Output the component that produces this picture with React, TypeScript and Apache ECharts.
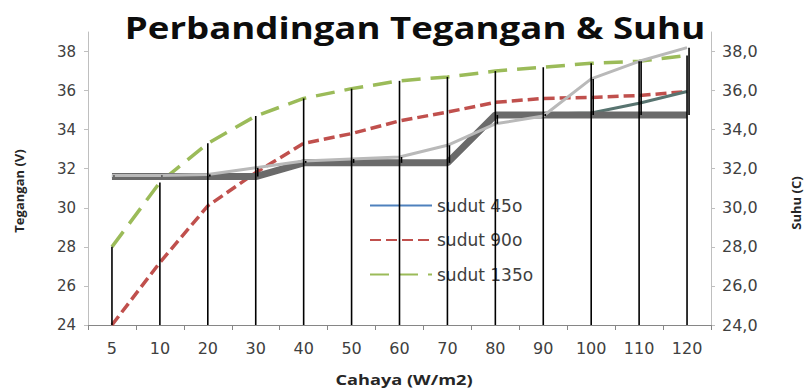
import React, { useEffect, useRef } from 'react';
import * as echarts from 'echarts';

const categories = ['5', '10', '20', '30', '40', '50', '60', '70', '80', '90', '100', '110', '120'];
// Tegangan (V) series
const sudut45 = [31.6, 31.6, 31.6, 31.6, 32.3, 32.3, 32.3, 32.3, 34.75, 34.75, 34.75, 34.75, 34.75];
const sudut90 = [24.0, 27.2, 30.1, 31.8, 33.3, 33.8, 34.45, 34.9, 35.4, 35.6, 35.65, 35.75, 35.95];
const sudut135 = [28.0, 31.3, 33.3, 34.7, 35.6, 36.1, 36.5, 36.7, 37.0, 37.2, 37.4, 37.5, 37.8];
// Suhu (C) series
const suhuDark = [31.6, 31.6, 31.6, 31.6, 32.3, 32.3, 32.3, 32.3, 34.75, 34.75, 34.75, 34.75, 34.75];
const suhuMid = [31.6, 31.6, 31.6, 31.6, 32.3, 32.3, 32.3, 32.3, 34.75, 34.8, 34.85, 35.35, 35.95];
const suhuLight = [31.65, 31.65, 31.7, 32.05, 32.4, 32.5, 32.6, 33.2, 34.3, 34.7, 36.6, 37.5, 38.2];

const yMin = 24;
const yMax = 39;
const yInterval = 2;

const FONT = "'Open Sans', 'DejaVu Sans', sans-serif";
const WIDE = "'DejaVu Sans', 'Open Sans', sans-serif";

export default function App() {
  const ref = useRef<HTMLDivElement>(null);

  useEffect(() => {
    if (!ref.current) return;
    const chart = echarts.init(ref.current, null, { renderer: 'svg' });

    // drop lines for the Tegangan group (visible dashed series)
    const dropTops = categories.map((_, i) => Math.max(sudut90[i], sudut135[i]));
    // high-low lines for the Suhu group
    const suhuGroup = [suhuDark, suhuMid, suhuLight];
    const hiLo = categories.map((_, i) => [
      i,
      Math.min(...suhuGroup.map((s) => s[i])),
      Math.max(...suhuGroup.map((s) => s[i])),
    ]);

    const vLine = (offset: number) => (params: any, api: any) => {
      const top = api.coord([api.value(0), api.value(2)]);
      const bottom = api.coord([api.value(0), api.value(1)]);
      return {
        type: 'line',
        shape: { x1: top[0] + offset, y1: top[1], x2: bottom[0] + offset, y2: bottom[1] },
        style: { stroke: '#000000', lineWidth: 1.6 },
      };
    };

    const option: any = {
      animation: false,
      backgroundColor: '#ffffff',
      grid: { left: 88, right: 94, top: 32, bottom: 64, containLabel: false },
      legend: {
        orient: 'vertical',
        left: 364,
        top: 192,
        itemWidth: 62,
        itemHeight: 14,
        itemGap: 17.5,
        data: ['sudut 45o', 'sudut 90o', 'sudut 135o'],
        itemStyle: { opacity: 0 },
        textStyle: { fontFamily: WIDE, fontSize: 17, color: '#404040', lineHeight: 14 },
      },
      xAxis: {
        type: 'category',
        data: categories,
        boundaryGap: true,
        axisLine: { lineStyle: { color: '#868686', width: 1 } },
        axisTick: { show: true, length: 5, lineStyle: { color: '#868686' } },
        axisLabel: { fontFamily: WIDE, fontSize: 16, color: '#404040', margin: 15 },
        splitLine: { show: false },
      },
      yAxis: [
        {
          type: 'value',
          min: yMin,
          max: yMax,
          interval: yInterval,
          position: 'left',
          axisLine: { show: true, lineStyle: { color: '#bfbfbf' } },
          axisTick: { show: true, length: 4, lineStyle: { color: '#bfbfbf' } },
          axisLabel: { fontFamily: WIDE, fontSize: 15, color: '#404040', margin: 12, showMaxLabel: false },
          splitLine: { show: false },
        },
        {
          type: 'value',
          min: yMin,
          max: yMax,
          interval: yInterval,
          position: 'right',
          axisLine: { show: true, lineStyle: { color: '#bfbfbf' } },
          axisTick: { show: true, length: 4, lineStyle: { color: '#bfbfbf' } },
          axisLabel: {
            fontFamily: WIDE,
            fontSize: 16,
            color: '#404040',
            margin: 11,
            showMaxLabel: false,
            formatter: (v: number) => v.toFixed(1).replace('.', ','),
          },
          splitLine: { show: false },
        },
      ],
      graphic: [
        {
          type: 'text',
          x: 415,
          y: 27,
          scaleX: 1.22,
          z: 20,
          style: {
            text: 'Perbandingan Tegangan & Suhu',
            fontFamily: FONT,
            fontSize: 30,
            fontWeight: 'bold',
            fill: '#0d0d0d',
            align: 'center',
            verticalAlign: 'middle',
          },
        },
        {
          type: 'text',
          x: 404,
          y: 380,
          scaleX: 1.3,
          style: {
            text: 'Cahaya (W/m2)',
            fontFamily: FONT,
            fontSize: 14,
            fontWeight: 'bold',
            fill: '#262626',
            align: 'center',
            verticalAlign: 'middle',
          },
        },
        {
          type: 'text',
          x: 19,
          y: 191,
          rotation: Math.PI / 2,
          style: {
            text: 'Tegangan (V)',
            fontFamily: FONT,
            fontSize: 13,
            fontWeight: 'bold',
            fill: '#262626',
            align: 'center',
            verticalAlign: 'middle',
          },
        },
        {
          type: 'text',
          x: 796,
          y: 203,
          rotation: Math.PI / 2,
          style: {
            text: 'Suhu (C)',
            fontFamily: FONT,
            fontSize: 13,
            fontWeight: 'bold',
            fill: '#262626',
            align: 'center',
            verticalAlign: 'middle',
          },
        },
      ],
      series: [
        {
          name: 'sudut 45o',
          type: 'line',
          yAxisIndex: 0,
          data: sudut45,
          symbol: 'none',
          z: 1,
          itemStyle: { color: '#4f81bd' },
          lineStyle: { color: '#4f81bd', width: 3.5 },
        },
        {
          name: 'sudut 90o',
          type: 'line',
          yAxisIndex: 0,
          data: sudut90,
          symbol: 'none',
          z: 2,
          itemStyle: { color: '#c0504d' },
          lineStyle: { color: '#c0504d', width: 3.5, type: [11, 5] },
        },
        {
          name: 'sudut 135o',
          type: 'line',
          yAxisIndex: 0,
          data: sudut135,
          symbol: 'none',
          z: 2,
          itemStyle: { color: '#9bbb59' },
          lineStyle: { color: '#9bbb59', width: 3.5, type: [19, 10] },
        },
        {
          name: 'suhu 2',
          type: 'line',
          yAxisIndex: 1,
          data: suhuMid,
          symbol: 'none',
          z: 3,
          lineStyle: { color: '#587470', width: 3 },
          itemStyle: { color: '#587470' },
        },
        {
          name: 'suhu 1',
          type: 'line',
          yAxisIndex: 1,
          data: suhuDark,
          symbol: 'none',
          z: 4,
          lineStyle: { color: '#6a6a6a', width: 7 },
          itemStyle: { color: '#6a6a6a' },
        },
        {
          name: 'suhu 3',
          type: 'line',
          yAxisIndex: 1,
          data: suhuLight,
          symbol: 'none',
          z: 5,
          lineStyle: { color: '#b9b9b9', width: 3 },
          itemStyle: { color: '#b9b9b9' },
        },
        {
          name: 'drop',
          type: 'custom',
          yAxisIndex: 0,
          z: 6,
          silent: true,
          data: dropTops.map((v, i) => [i, yMin, v]),
          encode: { x: 0, y: [1, 2] },
          renderItem: vLine(0),
        },
        {
          name: 'hilo',
          type: 'custom',
          yAxisIndex: 1,
          z: 6,
          silent: true,
          data: hiLo,
          encode: { x: 0, y: [1, 2] },
          renderItem: vLine(2),
        },
      ],
    };

    chart.setOption(option);
    return () => chart.dispose();
  }, []);

  return (
    <div
      ref={ref}
      style={{ position: 'fixed', left: 0, top: 0, width: 805, height: 389 }}
    />
  );
}
